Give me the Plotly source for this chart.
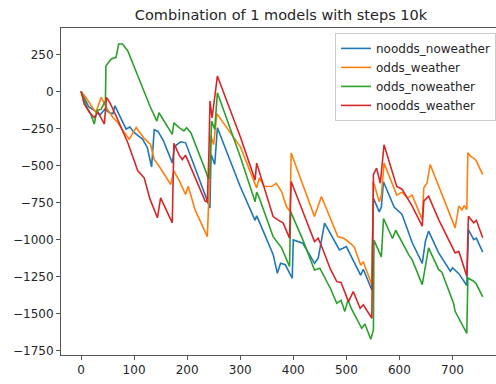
import plotly.graph_objects as go

series_names = ["noodds_noweather", "odds_weather", "odds_noweather", "noodds_weather"]
series_colors = ["#1f77b4", "#ff7f0e", "#2ca02c", "#d62728"]

# noodds_noweather
blue_x = [0, 8, 14, 25, 36, 45, 53, 60, 64, 75, 85, 92, 100, 108, 116, 125, 133, 138, 145, 155,
          165, 172, 176, 180, 188, 197, 210, 225, 238, 243, 245, 252, 257, 300, 328, 331, 336, 350, 362, 370,
          376, 385, 398, 400, 418, 440, 447, 459, 487, 500, 515, 527, 532, 548, 551, 562, 566, 570, 590, 605,
          624, 643, 649, 655, 674, 696, 700, 712, 727, 730, 740, 745, 757]
blue_y = [0, -60, -101, -130, -157, -120, -142, -150, -97, -180, -254, -240, -277, -300, -322, -380, -510, -259, -270, -330,
          -420, -482, -380, -360, -340, -347, -470, -610, -741, -786, -425, -493, -245, -642, -870, -840, -880, -1000, -1100, -1227,
          -1160, -1170, -1261, -1002, -1025, -1160, -1126, -889, -1070, -1047, -1150, -1241, -1200, -1340, -720, -813, -780, -610, -780, -830,
          -1020, -1160, -1011, -943, -1090, -1214, -1190, -1230, -1310, -932, -1000, -990, -1085]

# odds_weather
orange_x = [0, 9, 18, 28, 38, 48, 60, 69, 80, 91, 104, 118, 131, 138, 150, 169, 175, 185, 197, 202,
            215, 238, 242, 245, 250, 256, 300, 331, 336, 345, 359, 368, 378, 387, 394, 396, 440, 453, 484, 496,
            507, 515, 527, 532, 548, 551, 562, 566, 571, 595, 605, 615, 624, 643, 646, 652, 658, 674, 705, 712,
            718, 722, 727, 729, 735, 740, 745, 757]
orange_y = [0, -40, -90, -142, -40, -110, -176, -209, -270, -322, -243, -313, -358, -459, -520, -628, -538, -600, -696, -640,
            -800, -980, -630, -300, -360, -150, -372, -651, -583, -640, -642, -620, -676, -777, -811, -416, -845, -709, -980, -993,
            -1024, -1050, -1173, -1150, -1306, -610, -745, -700, -484, -700, -680, -720, -700, -865, -650, -620, -493, -639, -921, -774,
            -800, -770, -797, -414, -440, -450, -470, -561]

# odds_noweather
green_x = [0, 10, 18, 25, 30, 38, 46, 47, 57, 66, 71, 78, 88, 107, 119, 130, 143, 147, 172, 175,
           185, 194, 199, 207, 235, 239, 243, 246, 252, 257, 300, 328, 331, 336, 362, 378, 393, 395, 418, 440,
           450, 470, 482, 490, 497, 503, 510, 529, 535, 546, 551, 552, 566, 570, 587, 593, 618, 624, 643, 648,
           655, 674, 680, 702, 705, 727, 729, 740, 745, 757]
green_y = [0, -100, -150, -220, -130, -120, -63, 173, 219, 230, 320, 320, 275, 100, -5, -100, -200, -144, -290, -212,
           -245, -266, -245, -279, -538, -583, -583, -200, -256, -9, -439, -745, -680, -720, -980, -1056, -1182, -811, -1002, -1205,
           -1193, -1330, -1430, -1410, -1486, -1407, -1470, -1599, -1570, -1673, -1610, -1004, -1117, -858, -993, -937, -1105, -1135, -1304, -1191,
           -1056, -1203, -1220, -1430, -1484, -1633, -1259, -1281, -1300, -1387]

# noodds_weather
red_x = [0, 6, 16, 25, 32, 44, 48, 55, 66, 88, 107, 119, 130, 144, 150, 158, 172, 175, 185, 191,
         197, 234, 238, 241, 243, 247, 257, 300, 328, 331, 350, 362, 371, 381, 393, 396, 440, 447, 455, 470,
         482, 490, 504, 513, 526, 532, 548, 551, 557, 564, 571, 595, 605, 624, 643, 646, 655, 674, 705, 712,
         727, 730, 740, 745, 757]
red_y = [0, -85, -142, -176, -140, -220, -40, -80, -164, -345, -536, -583, -727, -853, -718, -780, -887, -350, -430, -460,
         -430, -740, -745, -420, -65, -178, 104, -304, -597, -484, -709, -845, -867, -889, -990, -608, -1013, -990, -1060, -1200,
         -1284, -1290, -1419, -1351, -1464, -1440, -1531, -560, -518, -620, -360, -642, -660, -774, -909, -741, -707, -865, -1090, -1080,
         -1247, -842, -887, -870, -988]

x_ticks = [0, 100, 200, 300, 400, 500, 600, 700]
y_ticks = [-1750, -1500, -1250, -1000, -750, -500, -250, 0, 250]

title_text = "Combination of 1 models with steps 10k"

xs = [blue_x, orange_x, green_x, red_x]
ys = [blue_y, orange_y, green_y, red_y]

fig = go.Figure()
for name, color, x, y in zip(series_names, series_colors, xs, ys):
    fig.add_trace(go.Scatter(x=x, y=y, mode="lines", name=name,
                             line=dict(color=color, width=1.6)))

font_family = "DejaVu Sans, Verdana, sans-serif"
fig.update_layout(
    width=496, height=384,
    margin=dict(l=61, r=0, t=28, b=29),
    paper_bgcolor="white", plot_bgcolor="white",
    font=dict(family=font_family, size=12, color="#262626"),
    title=dict(text=title_text, x=281 / 496, xanchor="center",
               y=1 - 15 / 384, yanchor="middle",
               font=dict(size=14.5, color="#262626")),
    legend=dict(x=1, xanchor="right", y=0.985, yanchor="top",
                bgcolor="rgba(255,255,255,0.8)", bordercolor="#cccccc", borderwidth=1,
                font=dict(size=12), itemwidth=30, tracegroupgap=0),
    showlegend=True,
)
fig.update_xaxes(range=[-37.7, 782], tickvals=x_ticks, showgrid=False, zeroline=False,
                 showline=True, linecolor="#555555", linewidth=1, mirror=True,
                 ticks="outside", ticklen=4, tickcolor="#555555")
fig.update_yaxes(range=[-1779, 428], tickvals=y_ticks, showgrid=False, zeroline=False,
                 showline=True, linecolor="#555555", linewidth=1, mirror=False,
                 ticks="outside", ticklen=4, tickcolor="#555555")

fig.write_html("out.html")
